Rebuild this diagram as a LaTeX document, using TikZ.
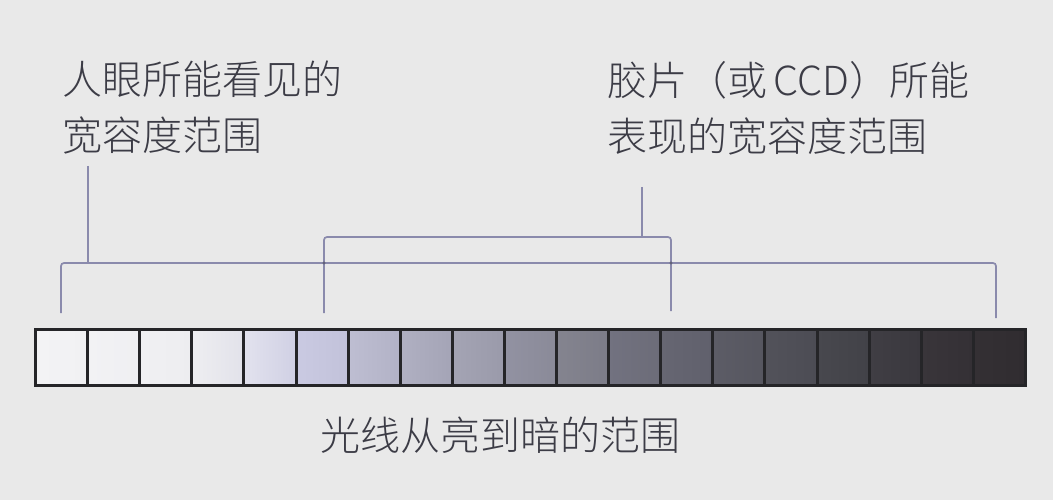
\documentclass[tikz,border=0pt]{standalone}
\usepackage{fontspec}
\setmainfont{Noto Sans CJK SC Light}
\definecolor{bg}{HTML}{E9E9E9}
\definecolor{txt}{HTML}{3C3C46}
\definecolor{brc}{HTML}{8A8AAC}
\definecolor{brd}{HTML}{252528}
\begin{document}
\begin{tikzpicture}[x=1pt,y=-1pt,
  lbl/.style={inner sep=0pt, text=txt, font=\fontsize{40}{56}\selectfont},
  brline/.style={draw=brc, line width=1.7pt, rounded corners=3pt},
  jdot/.style={fill=brc!70!black, draw=none},
  cellbox/.style={draw=brd, line width=3pt}]
\useasboundingbox[fill=bg] (0,0) rectangle (1053,500);

% labels
\node[lbl, anchor=base west] (eyeA) at (62,95) {人眼所能看见的};
\node[lbl, anchor=base west] (eyeB) at (62,151) {宽容度范围};
\node[lbl, anchor=base west] (filmA) at (607,96) {胶片（或\,CCD）所能};
\node[lbl, anchor=base west] (filmB) at (607,152) {表现的宽容度范围};
\node[lbl, anchor=base] (rangeL) at (500,450) {光线从亮到暗的范围};

% bar of 19 cells
\foreach \i/\lc/\rc in {
  0/F3F3F5/F1F1F3, 1/F2F2F4/EFEFF2, 2/F0F0F3/EDEDF0, 3/EEEEF1/E2E2EA,
  4/E2E2EE/D0D0E4, 5/CACAE2/C2C2DA, 6/BEBED2/B2B2C6, 7/B0B0C2/A4A4B6,
  8/A4A4B4/9A9AAA, 9/9292A2/8A8A98, 10/84848F/7C7C88, 11/727280/6C6C78,
  12/666672/60606C, 13/5C5C66/56565F, 14/52525A/4C4C54, 15/48484E/424248,
  16/403E44/3A383E, 17/39353A/343035, 18/343034/302C30}{
  \definecolor{cl}{HTML}{\lc}\definecolor{cr}{HTML}{\rc}
  \pgfmathsetmacro{\xa}{35.5+\i*52.1}
  \pgfmathsetmacro{\xb}{35.5+(\i+1)*52.1}
  \fill[left color=cl, right color=cr] (\xa,329.5) rectangle (\xb,385.5);
  \draw[cellbox] (\xa,329.5) rectangle (\xb,385.5);
}

% bracket coordinates
\coordinate (eyeL) at (61,313);
\coordinate (eyeLc) at (61,263);
\coordinate (eyeJ) at (88,263);
\coordinate (eyeRc) at (996,263);
\coordinate (eyeR) at (996,318);
\coordinate (eyeTop) at (88,166);
\coordinate (filmL) at (324,313);
\coordinate (filmLc) at (324,237);
\coordinate (filmJ) at (642,237);
\coordinate (filmRc) at (671,237);
\coordinate (filmR) at (671,311);
\coordinate (filmTop) at (642,187);
\coordinate (x1) at (324,263);
\coordinate (x2) at (671,263);

% brackets
\draw[brline] (eyeL) -- (eyeLc) -- (eyeRc) -- (eyeR);
\draw[brline] (filmL) -- (filmLc) -- (filmRc) -- (filmR);
\draw[brline] (eyeTop) -- (eyeJ);
\draw[brline] (filmTop) -- (filmJ);
\fill[jdot] (x1) circle (1.6pt);
\fill[jdot] (x2) circle (1.6pt);
\end{tikzpicture}
\end{document}
